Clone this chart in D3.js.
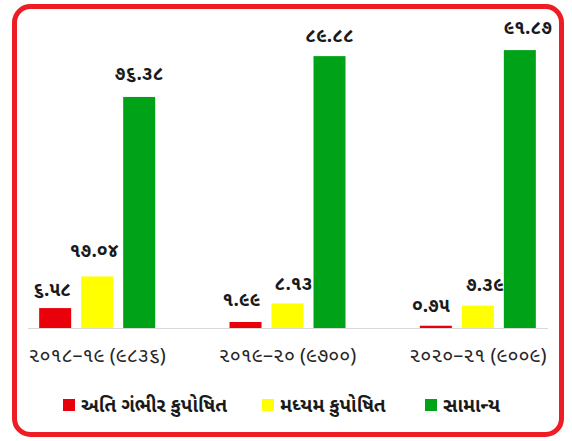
<!DOCTYPE html>
<html>
<head>
<meta charset="utf-8">
<script src="https://cdn.jsdelivr.net/npm/d3@7"></script>
<style>
  html, body { margin: 0; padding: 0; background: #fff; }
  svg { display: block; }
  text { font-family: "Noto Sans Gujarati", "Lohit Gujarati", "Shruti", "Noto Sans", sans-serif; }
</style>
</head>
<body>
<svg id="chart" width="572" height="441"></svg>
<script>
const categories = ["૨૦૧૮–૧૯ (૯૮૩૬)", "૨૦૧૯–૨૦ (૯૭૦૦)", "૨૦૨૦–૨૧ (૯૦૦૯)"];
const seriesNames = ["અતિ ગંભીર કુપોષિત", "મધ્યમ કુપોષિત", "સામાન્ય"];
const severe = [6.58, 1.99, 0.75];
const moderate = [17.04, 8.13, 7.39];
const normal = [76.38, 89.88, 91.87];
const valueLabels = [
  ["૬.૫૮", "૧.૯૯", "૦.૭૫"],
  ["૧૭.૦૪", "૮.૧૩", "૭.૩૯"],
  ["૭૬.૩૮", "૮૯.૮૮", "૯૧.૮૭"]
];
const colors = ["#e8000b", "#ffff00", "#00a318"];

const seriesValues = [severe, moderate, normal];
const svg = d3.select("#chart");

// rounded red frame
svg.append("rect")
  .attr("x", 14.5).attr("y", 6.5)
  .attr("width", 547).attr("height", 428)
  .attr("rx", 16).attr("ry", 16)
  .attr("fill", "#fff")
  .attr("stroke", "#ee1c25")
  .attr("stroke-width", 5);

const x0 = d3.scaleBand().domain(categories).range([2, 573]).padding(0);
const x1 = d3.scaleBand().domain(d3.range(3)).range([0, 116]).paddingInner(10 / 42).paddingOuter(0);
const y = d3.scaleLinear().domain([0, 100]).range([328, 25.5]);

// baseline axis
svg.append("line")
  .attr("x1", 28).attr("x2", 548)
  .attr("y1", y(0) + 0.5).attr("y2", y(0) + 0.5)
  .attr("stroke", "#d9d9d9").attr("stroke-width", 1);

const labelDx = [[-3, -4, -5], [-3, 6, 7], [0, 0, 8]];
const labelDy = [[-12, -16, -14], [-19, -13, -15], [-17, -14, -16]];

categories.forEach((cat, ci) => {
  const gx = x0(cat) + x0.bandwidth() / 2 - 58;
  seriesValues.forEach((vals, si) => {
    const bx = gx + x1(si);
    svg.append("rect")
      .attr("x", bx)
      .attr("y", y(vals[ci]))
      .attr("width", x1.bandwidth())
      .attr("height", y(0) - y(vals[ci]))
      .attr("fill", colors[si]);
    svg.append("text")
      .attr("x", bx + x1.bandwidth() / 2 + labelDx[si][ci])
      .attr("y", y(vals[ci]) + labelDy[si][ci])
      .attr("text-anchor", "middle")
      .attr("font-size", 19)
      .attr("font-weight", "bold")
      .attr("fill", "#1a1a1a")
      .text(valueLabels[si][ci]);
  });
  svg.append("text")
    .attr("x", x0(cat) + x0.bandwidth() / 2)
    .attr("y", 362)
    .attr("text-anchor", "middle")
    .attr("font-size", 20)
    .attr("fill", "#262626")
    .text(cat);
});

// legend
const legendX = [63, 262, 425];
seriesNames.forEach((name, i) => {
  svg.append("rect")
    .attr("x", legendX[i]).attr("y", 399)
    .attr("width", 12).attr("height", 12)
    .attr("fill", colors[i]);
  svg.append("text")
    .attr("x", legendX[i] + 18).attr("y", 412)
    .attr("font-size", 19)
    .attr("font-weight", "bold")
    .attr("fill", "#1a1a1a")
    .text(name);
});
</script>
</body>
</html>
